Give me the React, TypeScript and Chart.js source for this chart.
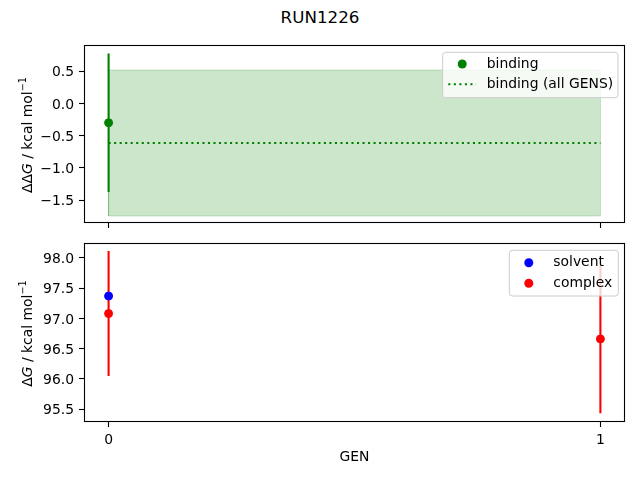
import React, { useEffect, useRef } from "react";
import { Chart, registerables } from "chart.js";

Chart.register(...registerables);

// ---------------- data ----------------
const TITLE = "RUN1226";
const X_TICKS = [0, 1];
const X_LABEL = "GEN";
const BINDING_GENS = [0];
const BINDING_VALUES = [-0.3];
const BINDING_ERRORS = [1.076];
const BINDING_ALL_RANGE = [0, 1];
const BINDING_ALL_MEAN = -0.615;
const BINDING_ALL_STD = 1.133;
const SOLVENT_GENS = [0];
const SOLVENT_VALUES = [97.37];
const COMPLEX_GENS = [0, 1];
const COMPLEX_VALUES = [97.08, 96.66];
const COMPLEX_ERRORS = [1.035, 1.23];
const TOP_Y_TICKS = [-1.5, -1.0, -0.5, 0.0, 0.5];
const BOTTOM_Y_TICKS = [95.5, 96.0, 96.5, 97.0, 97.5, 98.0];
const TOP_LEGEND = ["binding", "binding (all GENS)"];
const BOTTOM_LEGEND = ["solvent", "complex"];

const FONT = "DejaVu Sans";
const FS = 13.9;
const GREEN = "rgb(0,128,0)";
const BLUE = "rgb(0,0,255)";
const RED = "rgb(255,0,0)";

function pts(xs: number[], ys: number[]) {
  return xs.map((x, i) => ({ x, y: ys[i] }));
}
function errorSegments(xs: number[], ys: number[], es: number[]) {
  const out: any[] = [];
  xs.forEach((x, i) => {
    if (i > 0) out.push({ x, y: null });
    out.push({ x, y: ys[i] - es[i] });
    out.push({ x, y: ys[i] + es[i] });
  });
  return out;
}

function fmtTick(v: number) {
  return Number(v).toFixed(1).replace("-", "\u2212");
}

function drawYLabel(ctx: CanvasRenderingContext2D, x: number, y: number, prefix: string) {
  const normal = `${FS}px "${FONT}"`;
  const italic = `oblique ${FS}px "${FONT}"`;
  const sup = `${FS * 0.7}px "${FONT}"`;
  const parts = [
    { t: prefix, f: normal, dy: 0 },
    { t: "G", f: italic, dy: 0 },
    { t: " / kcal mol", f: normal, dy: 0 },
    { t: "\u22121", f: sup, dy: -FS * 0.42 },
  ];
  let total = 0;
  const widths = parts.map((p) => {
    ctx.font = p.f;
    const w = ctx.measureText(p.t).width;
    total += w;
    return w;
  });
  ctx.save();
  ctx.translate(x, y);
  ctx.rotate(-Math.PI / 2);
  ctx.fillStyle = "#000";
  ctx.textBaseline = "alphabetic";
  ctx.textAlign = "left";
  let cx = -total / 2;
  parts.forEach((p, i) => {
    ctx.font = p.f;
    ctx.fillText(p.t, cx, p.dy);
    cx += widths[i];
  });
  ctx.restore();
}

type LegendItem = { label: string; kind: "point" | "dotted"; color: string };

function drawLegend(
  ctx: CanvasRenderingContext2D,
  box: { l: number; t: number; r: number; b: number },
  items: LegendItem[],
  rowYs: number[]
) {
  const { l, t, r, b } = box;
  const rad = 3;
  ctx.save();
  ctx.beginPath();
  ctx.moveTo(l + rad, t);
  ctx.lineTo(r - rad, t);
  ctx.arcTo(r, t, r, t + rad, rad);
  ctx.lineTo(r, b - rad);
  ctx.arcTo(r, b, r - rad, b, rad);
  ctx.lineTo(l + rad, b);
  ctx.arcTo(l, b, l, b - rad, rad);
  ctx.lineTo(l, t + rad);
  ctx.arcTo(l, t, l + rad, t, rad);
  ctx.closePath();
  ctx.fillStyle = "rgba(255,255,255,0.8)";
  ctx.fill();
  ctx.strokeStyle = "rgb(204,204,204)";
  ctx.lineWidth = 1;
  ctx.stroke();
  const hs = l + 5.6;
  const he = hs + 27.8;
  const tx = he + 10.6;
  items.forEach((it, i) => {
    const y = rowYs[i];
    if (it.kind === "point") {
      ctx.beginPath();
      ctx.arc((hs + he) / 2, y, 4.5, 0, Math.PI * 2);
      ctx.fillStyle = it.color;
      ctx.fill();
    } else {
      ctx.beginPath();
      ctx.setLineDash([2.08, 3.44]);
      ctx.moveTo(hs, y);
      ctx.lineTo(he, y);
      ctx.strokeStyle = it.color;
      ctx.lineWidth = 2.08;
      ctx.stroke();
      ctx.setLineDash([]);
    }
    ctx.fillStyle = "#000";
    ctx.font = `${FS}px "${FONT}"`;
    ctx.textBaseline = "middle";
    ctx.textAlign = "left";
    ctx.fillText(it.label, tx, y);
  });
  ctx.restore();
}

function framePlugin(id: string) {
  return {
    id,
    afterDatasetsDraw(chart: any) {
      const { ctx, chartArea } = chart;
      ctx.save();
      ctx.strokeStyle = "#000";
      ctx.lineWidth = 1.1;
      ctx.strokeRect(
        Math.round(chartArea.left) + 0.5,
        Math.round(chartArea.top) + 0.5,
        Math.round(chartArea.right - chartArea.left) - 1,
        Math.round(chartArea.bottom - chartArea.top) - 1
      );
      ctx.restore();
    },
  };
}

function xScale(showLabels: boolean, height: number) {
  return {
    type: "linear",
    min: -0.05,
    max: 1.05,
    afterBuildTicks: (s: any) => {
      s.ticks = X_TICKS.map((v) => ({ value: v }));
    },
    afterFit: (s: any) => {
      s.height = height;
      s.paddingLeft = 0;
      s.paddingRight = 0;
      s.paddingTop = 0;
      s.paddingBottom = 0;
    },
    grid: {
      display: true,
      drawOnChartArea: false,
      drawTicks: true,
      tickLength: 5,
      tickColor: "#000",
      tickWidth: 1.1,
      color: "#000",
    },
    border: { display: false },
    ticks: {
      display: showLabels,
      color: "#000",
      padding: 5,
      font: { family: FONT, size: FS },
      callback: (v: any) => String(v),
    },
    title: {
      display: showLabels,
      text: X_LABEL,
      color: "#000",
      font: { family: FONT, size: FS },
      padding: { top: 2, bottom: 14.2 },
    },
  };
}

function yScale(min: number, max: number, ticks: number[]) {
  return {
    type: "linear",
    min,
    max,
    afterBuildTicks: (s: any) => {
      s.ticks = ticks.map((v) => ({ value: v }));
    },
    afterFit: (s: any) => {
      s.width = 84;
      s.paddingLeft = 0;
      s.paddingRight = 0;
      s.paddingTop = 0;
      s.paddingBottom = 0;
    },
    grid: {
      display: true,
      drawOnChartArea: false,
      drawTicks: true,
      tickLength: 5,
      tickColor: "#000",
      tickWidth: 1.1,
      color: "#000",
    },
    border: { display: false },
    ticks: {
      color: "#000",
      padding: 5,
      labelOffset: 1.5,
      font: { family: FONT, size: FS },
      callback: (v: any) => fmtTick(v),
    },
  };
}

export default function App() {
  const topRef = useRef<HTMLCanvasElement | null>(null);
  const botRef = useRef<HTMLCanvasElement | null>(null);

  useEffect(() => {
    Chart.defaults.font.family = FONT;

    const shade = [
      { x: BINDING_ALL_RANGE[0], y: BINDING_ALL_MEAN - BINDING_ALL_STD },
      { x: BINDING_ALL_RANGE[1], y: BINDING_ALL_MEAN - BINDING_ALL_STD },
      { x: BINDING_ALL_RANGE[1], y: BINDING_ALL_MEAN + BINDING_ALL_STD },
      { x: BINDING_ALL_RANGE[0], y: BINDING_ALL_MEAN + BINDING_ALL_STD },
      { x: BINDING_ALL_RANGE[0], y: BINDING_ALL_MEAN - BINDING_ALL_STD },
    ];
    const meanLine = BINDING_ALL_RANGE.map((x) => ({ x, y: BINDING_ALL_MEAN }));

    // Lower `order` is drawn on top.
    const top = new Chart(topRef.current as HTMLCanvasElement, {
      type: "line",
      data: {
        datasets: [
          {
            label: TOP_LEGEND[0],
            data: pts(BINDING_GENS, BINDING_VALUES),
            showLine: false,
            pointRadius: 4,
            pointBorderWidth: 1,
            pointBackgroundColor: GREEN,
            pointBorderColor: GREEN,
            order: 0,
          },
          {
            label: "binding err",
            data: errorSegments(BINDING_GENS, BINDING_VALUES, BINDING_ERRORS),
            showLine: true,
            pointRadius: 0,
            borderColor: GREEN,
            borderWidth: 2.08,
            spanGaps: false,
            order: 1,
          },
          {
            label: TOP_LEGEND[1],
            data: meanLine,
            showLine: true,
            pointRadius: 0,
            borderColor: GREEN,
            borderWidth: 2.08,
            borderDash: [2.08, 3.44],
            order: 2,
          },
          {
            label: "shade",
            data: shade,
            showLine: true,
            pointRadius: 0,
            borderColor: "rgba(0,128,0,0.2)",
            backgroundColor: "rgba(0,128,0,0.2)",
            borderWidth: 1,
            fill: "shape",
            tension: 0,
            order: 3,
          },
        ],
      } as any,
      options: {
        animation: false,
        responsive: false,
        devicePixelRatio: 1,
        layout: { padding: { top: 45, right: 15, bottom: 250, left: 0 } },
        plugins: { legend: { display: false }, tooltip: { enabled: false }, title: { display: false } },
        scales: {
          x: xScale(false, 7) as any,
          y: yScale(-1.857, 0.907, TOP_Y_TICKS) as any,
        },
      } as any,
      plugins: [
        framePlugin("frameTop"),
        {
          id: "extrasTop",
          afterDraw(chart: any) {
            const ctx = chart.ctx;
            const ca = chart.chartArea;
            drawYLabel(ctx, 32, (ca.top + ca.bottom) / 2 + 1, "\u0394\u0394");
            drawLegend(
              ctx,
              { l: 442.7, t: 52.3, r: 618, b: 97.7 },
              [
                { label: TOP_LEGEND[0], kind: "point", color: GREEN },
                { label: TOP_LEGEND[1], kind: "dotted", color: GREEN },
              ],
              [64, 84.3]
            );
          },
        },
      ],
    });

    const bot = new Chart(botRef.current as HTMLCanvasElement, {
      type: "line",
      data: {
        datasets: [
          {
            label: BOTTOM_LEGEND[0],
            data: pts(SOLVENT_GENS, SOLVENT_VALUES),
            showLine: false,
            pointRadius: 4,
            pointBorderWidth: 1,
            pointBackgroundColor: BLUE,
            pointBorderColor: BLUE,
            order: 0,
          },
          {
            label: BOTTOM_LEGEND[1],
            data: pts(COMPLEX_GENS, COMPLEX_VALUES),
            showLine: false,
            pointRadius: 4,
            pointBorderWidth: 1,
            pointBackgroundColor: RED,
            pointBorderColor: RED,
            order: 1,
          },
          {
            label: "complex err",
            data: errorSegments(COMPLEX_GENS, COMPLEX_VALUES, COMPLEX_ERRORS),
            showLine: true,
            pointRadius: 0,
            borderColor: RED,
            borderWidth: 2.08,
            spanGaps: false,
            order: 2,
          },
        ],
      } as any,
      options: {
        animation: false,
        responsive: false,
        devicePixelRatio: 1,
        layout: { padding: { top: 243, right: 15, bottom: 0, left: 0 } },
        plugins: { legend: { display: false }, tooltip: { enabled: false }, title: { display: false } },
        scales: {
          x: xScale(true, 58) as any,
          y: yScale(95.285, 98.248, BOTTOM_Y_TICKS) as any,
        },
      } as any,
      plugins: [
        framePlugin("frameBot"),
        {
          id: "extrasBot",
          afterDraw(chart: any) {
            const ctx = chart.ctx;
            const ca = chart.chartArea;
            drawYLabel(ctx, 32, (ca.top + ca.bottom) / 2 + 1, "\u0394");
            drawLegend(
              ctx,
              { l: 509.3, t: 250.3, r: 618.3, b: 296 },
              [
                { label: BOTTOM_LEGEND[0], kind: "point", color: BLUE },
                { label: BOTTOM_LEGEND[1], kind: "point", color: RED },
              ],
              [262.7, 283.3]
            );
          },
        },
      ],
    });

    return () => {
      top.destroy();
      bot.destroy();
    };
  }, []);

  return (
    <div style={{ position: "fixed", left: 0, top: 0, width: 640, height: 480, background: "#fff" }}>
      <div
        style={{
          position: "absolute",
          left: 0,
          top: 7,
          width: 640,
          textAlign: "center",
          fontFamily: `"${FONT}"`,
          fontSize: 16.7,
          lineHeight: "20px",
          color: "#000",
        }}
      >
        {TITLE}
      </div>
      <canvas ref={topRef} width={640} height={480} style={{ position: "absolute", left: 0, top: 0 }} />
      <canvas ref={botRef} width={640} height={480} style={{ position: "absolute", left: 0, top: 0 }} />
    </div>
  );
}
